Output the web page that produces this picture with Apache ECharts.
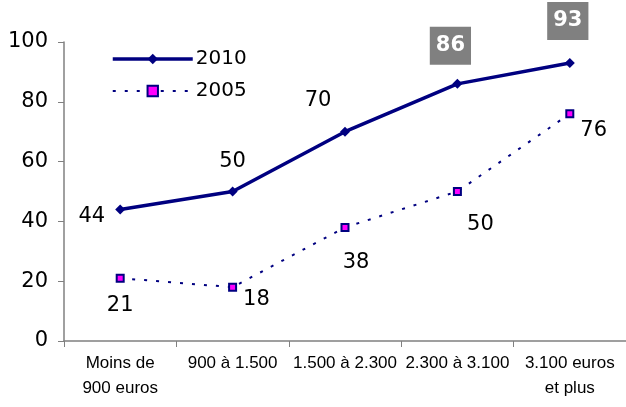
<!DOCTYPE html>
<html><head><meta charset="utf-8">
<script src="https://cdn.jsdelivr.net/npm/echarts@6/dist/echarts.min.js"></script>
<style>html,body{margin:0;padding:0;background:#fff}#c{width:626px;height:407px}</style>
</head><body><div id="c"></div>
<script>
const categories = ['Moins de\n900 euros', '900 à 1.500', '1.500 à 2.300', '2.300 à 3.100', '3.100 euros\net plus'];
const values2010 = [44, 50, 70, 86, 93];
const values2005 = [21, 18, 38, 50, 76];
const yTicks = [0, 20, 40, 60, 80, 100];

const navy = '#000080';
const lblFont = {fontFamily: 'DejaVu Sans', fontSize: 21, color: '#000'};

const lbl2010 = [
  {position: 'left', distance: 10, offset: [0, 7]},
  {position: 'top', distance: 14, offset: [0, 0]},
  {position: 'top', distance: 16, offset: [-27, 0]},
  {position: 'top', distance: 14, offset: [-7, 0], box: true},
  {position: 'top', distance: 18, offset: [-2, 0], box: true}
];
const lbl2005 = [
  {position: 'bottom', distance: 12, offset: [0, 0]},
  {position: 'right', distance: 6, offset: [0, 12]},
  {position: 'bottom', distance: 20, offset: [11, 0]},
  {position: 'bottom', distance: 18, offset: [23, 0]},
  {position: 'right', distance: 6, offset: [0, 17]}
];

function mk(vals, cfg) {
  return vals.map((v, i) => {
    const c = cfg[i];
    const label = Object.assign({show: true, position: c.position, distance: c.distance, offset: c.offset}, lblFont);
    if (c.box) {
      Object.assign(label, {backgroundColor: '#808080', color: '#fff', fontWeight: 'bold', fontSize: 21, lineHeight: 22, padding: [8, 6, 8, 6]});
    }
    return {value: v, label};
  });
}

const chart = echarts.init(document.getElementById('c'));
chart.setOption({
  animation: false,
  grid: {left: 64, right: 0, top: 42, bottom: 66},
  legend: {
    orient: 'vertical', left: 106, top: 43, itemGap: 10,
    itemWidth: 80, itemHeight: 13,
    textStyle: {fontFamily: 'DejaVu Sans', fontSize: 20, lineHeight: 22, color: '#000', padding: [0, 0, 0, -2]},
    data: [
      {name: '2010', itemStyle: {color: navy}, lineStyle: {color: navy, width: 3.5}},
      {name: '2005', itemStyle: {color: '#ff00ff', borderColor: navy, borderWidth: 2},
       lineStyle: {color: navy, width: 2, type: [3, 9]}}
    ]
  },
  xAxis: {
    type: 'category', data: categories, boundaryGap: true,
    axisLine: {lineStyle: {color: '#808080', width: 1.5}},
    axisTick: {show: true, length: 6, lineStyle: {color: '#808080'}},
    axisLabel: {fontFamily: 'Liberation Sans', fontSize: 17, color: '#000', margin: 10, lineHeight: 25, interval: 0}
  },
  yAxis: {
    type: 'value', min: yTicks[0], max: yTicks[yTicks.length - 1], interval: 20,
    splitLine: {show: false},
    axisLine: {show: true, lineStyle: {color: '#808080', width: 1.5}},
    axisTick: {show: true, length: 6, lineStyle: {color: '#808080'}},
    axisLabel: {fontFamily: 'DejaVu Sans', fontSize: 21, color: '#000', margin: 16}
  },
  series: [
    {
      name: '2010', type: 'line', data: mk(values2010, lbl2010),
      symbol: 'diamond', symbolSize: 10,
      lineStyle: {color: navy, width: 3.5},
      itemStyle: {color: navy}
    },
    {
      name: '2005', type: 'line', data: mk(values2005, lbl2005),
      symbol: 'rect', symbolSize: 7,
      lineStyle: {color: navy, width: 2, type: [3, 9]},
      itemStyle: {color: '#ff00ff', borderColor: navy, borderWidth: 2}
    }
  ]
});
</script></body></html>
